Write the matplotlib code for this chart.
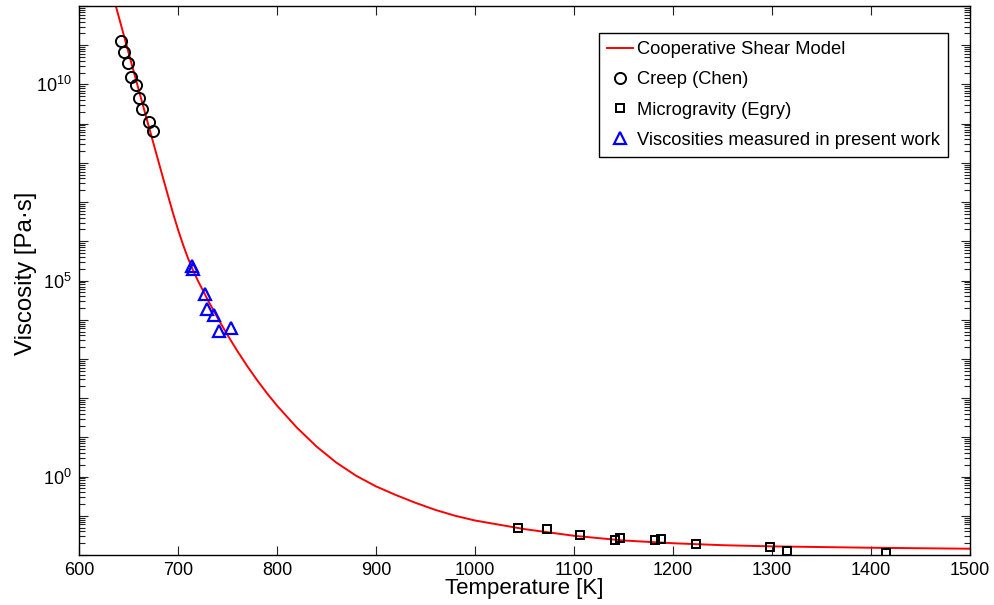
import numpy as np
import matplotlib
matplotlib.use('Agg')
import matplotlib.pyplot as plt
from matplotlib.ticker import LogLocator, FuncFormatter, NullFormatter, MultipleLocator

# model curve (T in K, log10 viscosity)
model_T=[636,645,655,665,672,680,685,690,695,700,705,710,715,720,730,740,750,760,770,780,790,800,820,840,860,880,900,920,940,960,980,1000,1050,1100,1150,1200,1250,1300,1400,1500]
model_logeta=[12.11,11.28,10.355,9.43,8.79,8.06,7.605,7.155,6.715,6.30,5.92,5.575,5.27,5.00,4.51,4.045,3.61,3.20,2.815,2.455,2.12,1.81,1.25,0.765,0.355,0.02,-0.25,-0.47,-0.67,-0.85,-1.00,-1.12,-1.34,-1.51,-1.63,-1.70,-1.75,-1.78,-1.815,-1.84]

creep_T=[642.7,645.4,649.7,652.5,657.2,660.8,663.9,670.9,674.4]
creep_logeta=[11.12,10.83,10.55,10.20,9.98,9.65,9.37,9.05,8.82]

egry_T=[1043,1072.6,1105.6,1141.9,1146.6,1181.5,1188.3,1223.3,1298,1315.4,1415.6]
egry_logeta=[-1.32,-1.33,-1.49,-1.62,-1.57,-1.63,-1.60,-1.71,-1.80,-1.89,-1.95]

work_T=[714.3,715.3,727.4,728.8,736.5,741.3,753.7]
work_logeta=[5.36,5.30,4.66,4.28,4.13,3.72,3.79]

labels=['Cooperative Shear Model','Creep (Chen)','Microgravity (Egry)','Viscosities measured in present work']

plt.rcParams['font.family']=['Liberation Sans','DejaVu Sans']
plt.rcParams['mathtext.default']='regular'

fig=plt.figure(figsize=(9.95,6.05),dpi=100)
ax=fig.add_axes([79/995,(605-555)/605,(970-79)/995,(555-6)/605])

ax.plot(model_T,10**np.array(model_logeta),color='#ff0000',lw=1.4,label=labels[0])
ax.plot(creep_T,10**np.array(creep_logeta),'o',mfc='none',mec='k',mew=1.4,ms=8,label=labels[1])
ax.plot(egry_T,10**np.array(egry_logeta),'s',mfc='none',mec='k',mew=1.4,ms=6,label=labels[2])
ax.plot(work_T,10**np.array(work_logeta),'^',mfc='none',mec='#0000ff',mew=1.6,ms=8,label=labels[3])

ax.set_yscale('log')
ax.set_xlim(600,1500); ax.set_ylim(1e-2,1e12)
ax.xaxis.set_major_locator(MultipleLocator(100))
ax.yaxis.set_major_locator(LogLocator(base=10,numticks=30))
ax.yaxis.set_minor_locator(LogLocator(base=10,subs=np.arange(2,10),numticks=30))
ax.yaxis.set_major_formatter(FuncFormatter(lambda v,p: '$10^{%d}$'%round(np.log10(v)) if round(np.log10(v))%5==0 else ''))
ax.yaxis.set_minor_formatter(NullFormatter())
ax.tick_params(which='both',direction='in',top=True,right=True,labelsize=13,width=0.8,color='#222222')
ax.tick_params(which='major',length=6.5,pad=5)
ax.tick_params(which='minor',length=4)
for s in ax.spines.values(): s.set_linewidth(1.0)

ax.set_xlabel('Temperature [K]',fontsize=16,labelpad=-1)
ax.set_ylabel('Viscosity [Pa\u00b7s]',fontsize=17.3)
ax.yaxis.set_label_coords(-0.047,0.514)

leg=ax.legend(loc='upper right',bbox_to_anchor=((948-79)/891,(555-33)/549),borderaxespad=0,fontsize=13.2,
              fancybox=False,framealpha=1,edgecolor='k',handlelength=1.4,handletextpad=0.2,labelspacing=0.72,borderpad=0.45)
leg.get_frame().set_linewidth(1.0)

fig.savefig('out.png',dpi=100)
